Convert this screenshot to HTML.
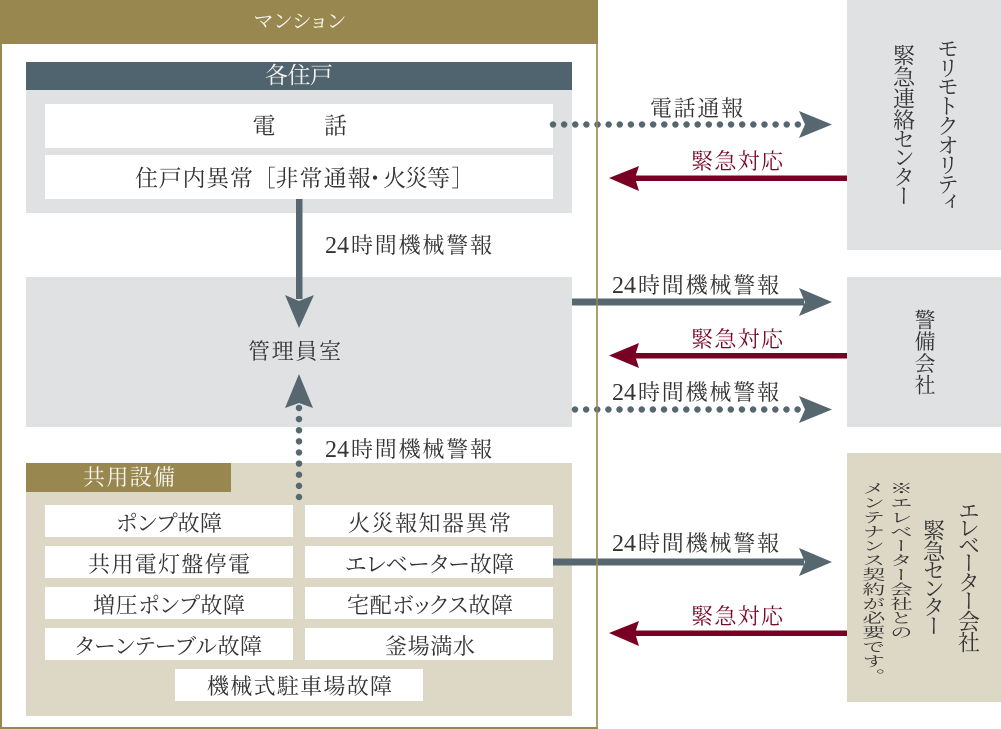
<!DOCTYPE html>
<html lang="ja">
<head>
<meta charset="utf-8">
<title>緊急通報システム</title>
<style>
html,body{margin:0;padding:0;background:#fff;width:1001px;height:729px;overflow:hidden}
svg{display:block}
text{font-family:"Liberation Serif","Noto Serif CJK JP","Noto Serif CJK SC",serif;fill:#333;font-size:22px;font-feature-settings:"palt"}
.w{fill:#f8f6ee}
.r{fill:#7a0a2a}
.d{font-size:24px}
.v{writing-mode:vertical-rl;font-size:22px;font-feature-settings:"vpal"}
.p{writing-mode:vertical-rl;font-feature-settings:normal}
.n{font-size:23px}
</style>
</head>
<body>
<svg width="1001" height="729" viewBox="0 0 1001 729" xmlns="http://www.w3.org/2000/svg">
<!-- outer -->
<rect x="0" y="0" width="598" height="44" fill="#98874f"/>
<rect x="0" y="44" width="2" height="685" fill="#98874f"/>
<rect x="0" y="727" width="598" height="2" fill="#98874f"/>

<!-- each unit -->
<rect x="26" y="90" width="546" height="123" fill="#e0e1e3"/>
<rect x="26" y="62" width="546" height="28" fill="#4f646e"/>
<rect x="45" y="104" width="508" height="44" fill="#fff"/>
<rect x="45" y="155" width="508" height="44" fill="#fff"/>

<!-- control room -->
<rect x="26" y="277" width="546" height="150" fill="#e0e1e3"/>

<!-- common -->
<rect x="26" y="463" width="546" height="253" fill="#ddd8c6"/>
<rect x="26" y="463" width="205" height="29" fill="#98874f"/>
<g fill="#fff">
<rect x="45" y="505" width="248" height="32"/><rect x="305" y="505" width="248" height="32"/>
<rect x="45" y="546" width="248" height="32"/><rect x="305" y="546" width="248" height="32"/>
<rect x="45" y="587" width="248" height="32"/><rect x="305" y="587" width="248" height="32"/>
<rect x="45" y="628" width="248" height="32"/><rect x="305" y="628" width="248" height="32"/>
<rect x="175" y="669" width="248" height="32"/>
</g>

<!-- right boxes -->
<rect x="847" y="0" width="154" height="250" fill="#e0e1e3"/>
<rect x="847" y="277" width="154" height="150" fill="#e0e1e3"/>
<rect x="847" y="453" width="154" height="249" fill="#ddd8c6"/>

<!-- vertical arrows -->
<rect x="296" y="199" width="6.500" height="100" fill="#57676f"/>
<polygon points="299,328 285,295 299,301 314,295" fill="#57676f"/>
<line x1="299" y1="497" x2="299" y2="405" stroke="#57676f" stroke-width="6.500" stroke-linecap="round" stroke-dasharray="0 11.13"/>
<polygon points="299,374 285,408 299,403 313,408" fill="#57676f"/>

<!-- horizontal arrows slate -->
<g fill="#57676f">
<line x1="553" y1="124.500" x2="806" y2="124.500" stroke="#57676f" stroke-width="6.500" stroke-linecap="round" stroke-dasharray="0 11.13"/>
<polygon points="832,124.500 799,111 805,124.500 799,138"/>
<rect x="572" y="298.500" width="232" height="7"/>
<polygon points="832,302 799,288 805,302 799,316"/>
<line x1="575" y1="409.500" x2="806" y2="409.500" stroke="#57676f" stroke-width="6.500" stroke-linecap="round" stroke-dasharray="0 11.13"/>
<polygon points="832,409.500 799,396 805,409.500 799,423"/>
<rect x="553" y="558.500" width="251" height="7"/>
<polygon points="832,562 799,548 805,562 799,576"/>
</g>
<!-- red arrows -->
<g fill="#770024">
<rect x="634" y="175.500" width="213" height="5.500"/>
<polygon points="609,178 639,166 635,178 639,191"/>
<rect x="634" y="353" width="213" height="5.500"/>
<polygon points="609,355.500 639,343 635,355.500 639,368"/>
<rect x="634" y="630.500" width="213" height="5.500"/>
<polygon points="609,633 639,621 635,633 639,646"/>
</g>

<rect x="596" y="0" width="2" height="729" fill="#98874f" opacity=".8"/>

<!-- text -->
<text class="w" x="254" y="28" textLength="91" style="font-size:20px">マンション</text>
<text class="w" x="265" y="83" textLength="68" style="font-size:23px">各住戸</text>
<text x="252.500" y="133.500" style="font-size:23px">電</text>
<text x="324" y="133.500" style="font-size:23px">話</text>
<g style="font-size:23px">
<text x="135" y="186" textLength="118" style="font-size:23px">住戸内異常</text>
<text x="264" y="186" style="font-size:23px">［</text>
<text x="275.500" y="186" textLength="95" style="font-size:23px">非常通報</text>
<text x="375" y="186" text-anchor="middle" style="font-size:23px">・</text>
<text x="383" y="186" textLength="67" style="font-size:23px">火災等</text>
<text x="463" y="186" text-anchor="end" style="font-size:23px">］</text>
</g>

<text class="d" x="325" y="253">24</text><text x="351" y="253" textLength="141">時間機械警報</text>
<text x="248" y="359" textLength="93">管理員室</text>
<text class="d" x="325" y="457">24</text><text x="351" y="457" textLength="141">時間機械警報</text>
<text class="w" x="83" y="485" textLength="92">共用設備</text>

<text x="116" y="531" textLength="106">ポンプ故障</text>
<text x="348" y="531" textLength="163">火災報知器異常</text>
<text x="88" y="572" textLength="162">共用電灯盤停電</text>
<text x="345" y="572" textLength="169">エレベーター故障</text>
<text x="93" y="613" textLength="152">増圧ポンプ故障</text>
<text x="347" y="613" textLength="166">宅配ボックス故障</text>
<text x="75" y="654" textLength="187">ターンテーブル故障</text>
<text x="385" y="654" textLength="90">釜場満水</text>
<text x="207" y="694" textLength="185">機械式駐車場故障</text>

<text x="650" y="116" textLength="93">電話通報</text>
<text class="r" x="691" y="169" textLength="92">緊急対応</text>
<text class="d" x="612" y="293">24</text><text x="638" y="293" textLength="141">時間機械警報</text>
<text class="r" x="691" y="347" textLength="92">緊急対応</text>
<text class="d" x="612" y="400">24</text><text x="638" y="400" textLength="141">時間機械警報</text>
<text class="d" x="612" y="551">24</text><text x="638" y="551" textLength="141">時間機械警報</text>
<text class="r" x="691" y="624" textLength="92">緊急対応</text>

<!-- vertical labels -->
<text class="v" x="947" y="40" textLength="170">モリモトクオリティ</text>
<text class="v" x="903" y="44" textLength="162">緊急連絡センター</text>
<text class="p" x="924" y="309" style="font-size:21px;letter-spacing:.7px">警備会社</text>
<text class="v" x="968" y="503" textLength="150">エレベーター会社</text>
<text class="v" x="933" y="519" textLength="117">緊急センター</text>
<text class="p n" transform="translate(899 481) scale(1 .626)">※エレベーター会社との</text>
<text class="p n" transform="translate(871.500 481) scale(1 .626)">メンテナンス契約が必要です。</text>
</svg>
</body>
</html>
